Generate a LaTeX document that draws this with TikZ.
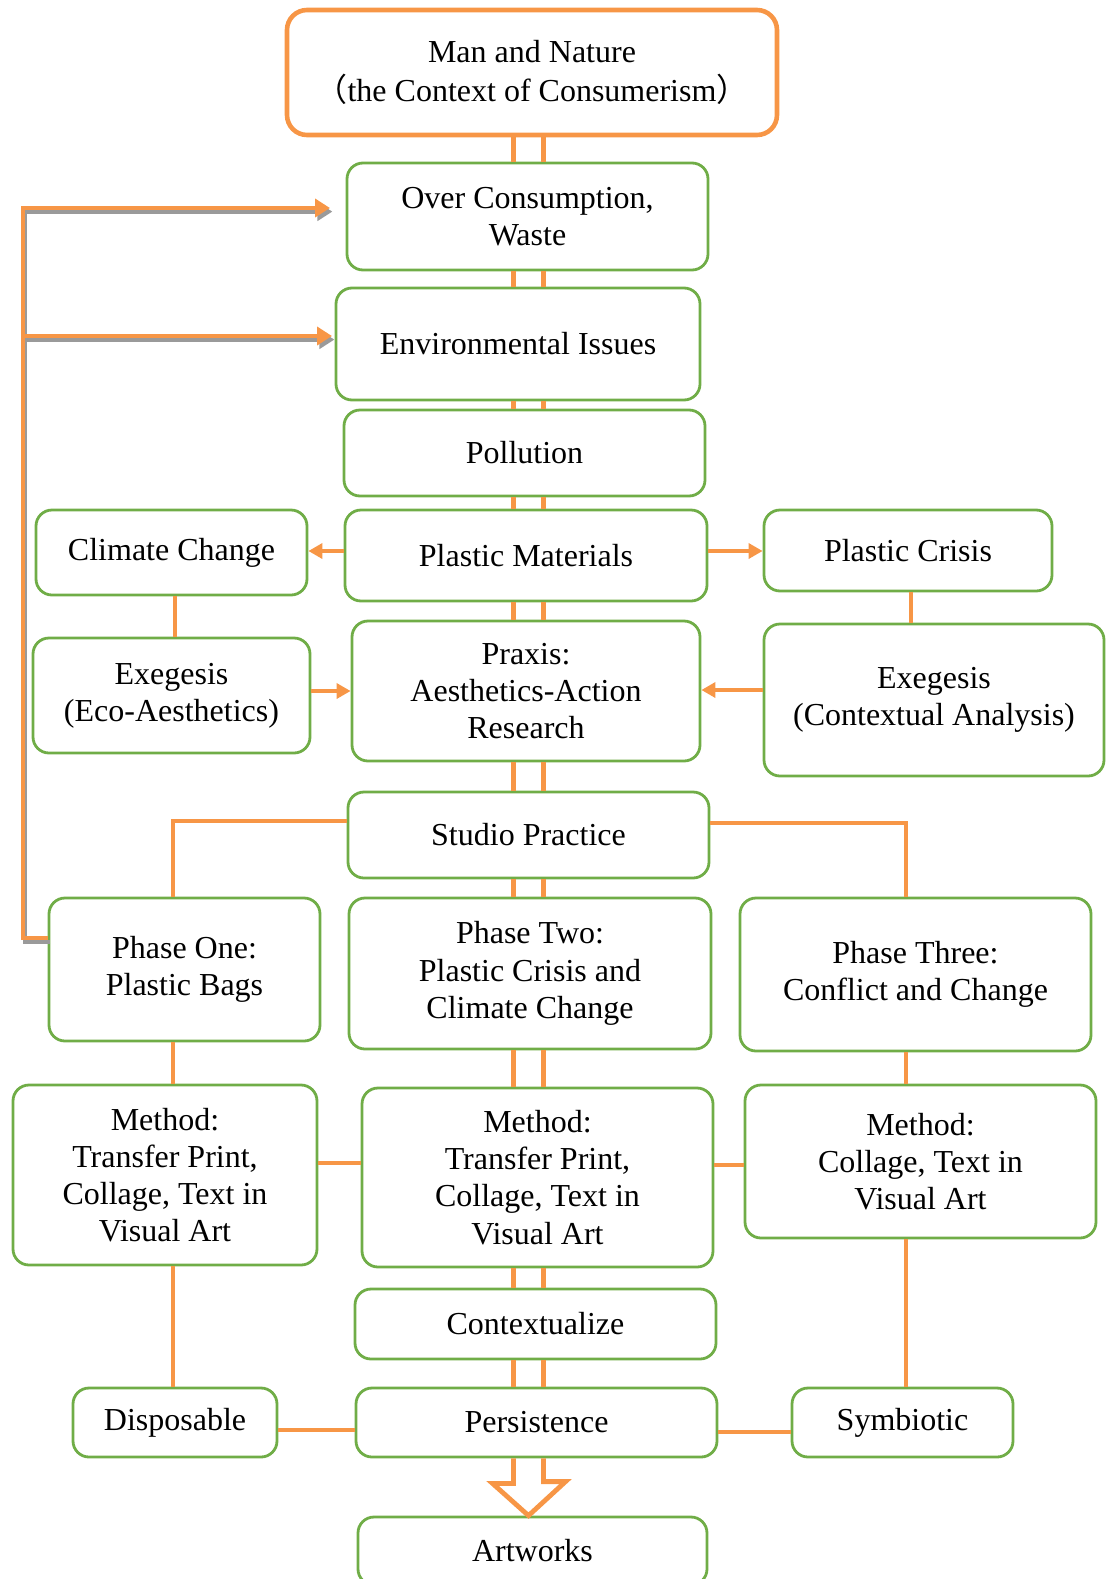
\documentclass[tikz,border=0pt]{standalone}
\usepackage{fontspec}
\setmainfont{Liberation Serif}
\newfontfamily\cjk{Noto Sans CJK SC}
\usetikzlibrary{arrows.meta}
\definecolor{Orange}{HTML}{F79646}
\definecolor{Green}{HTML}{70AD47}
\definecolor{Shade}{HTML}{9A9A9A}

\begin{document}
\begin{tikzpicture}[x=0.5pt,y=-0.5pt,
    box/.style={draw=Green,line width=1.4pt,rounded corners=8pt,
                inner sep=0pt,align=center,
                font=\fontsize{16}{18.6}\selectfont},
    topbox/.style={box,draw=Orange,line width=2.3pt,rounded corners=10pt,
                   font=\fontsize{16}{19.6}\selectfont},
    sz/.style 2 args={minimum width=#1*0.5pt,minimum height=#2*0.5pt},
    lnk/.style={draw=Orange,line width=1.7pt},
    arr/.style={lnk,-{Triangle[length=7pt,width=7.5pt]}},
    pipe/.style={draw=Orange,line width=2.4pt},
    brk/.style={draw=Orange,line width=2pt,-{Triangle[length=7.5pt,width=9pt]}},
    brkshade/.style={brk,draw=Shade,transform canvas={shift={(1.2pt,-1.8pt)}}}
  ]
    \useasboundingbox (0,0) rectangle (1112,1579);

    % main column
    \node[topbox,sz={490}{125}] (man) at (532,72.5)
      {Man and Nature\\{\cjk （}the Context of Consumerism{\cjk ）}};
    \node[box,sz={361}{107}] (over)   at (527.5,216.5) {Over Consumption,\\Waste};
    \node[box,sz={364}{112}] (env)    at (518,344)     {Environmental Issues};
    \node[box,sz={361}{86}]  (poll)   at (524.5,453)   {Pollution};
    \node[box,sz={362}{91}]  (plmat)  at (526,555.5)   {Plastic Materials};
    \node[box,sz={348}{140}] (praxis) at (526,691)     {Praxis:\\Aesthetics-Action\\Research};
    \node[box,sz={361}{86}]  (studio) at (528.5,835)   {Studio Practice};
    \node[box,sz={362}{151}] (ph2)    at (530,973.5)   {Phase Two:\\Plastic Crisis and\\Climate Change};
    \node[box,sz={351}{179}] (mM)     at (537.5,1177.5){Method:\\Transfer Print,\\Collage, Text in\\Visual Art};
    \node[box,sz={361}{70}]  (ctx)    at (535.5,1324)  {Contextualize};
    \node[box,sz={361}{69}]  (pers)   at (536.5,1422.5){Persistence};
    \node[box,sz={349}{68}]  (art)    at (532.5,1551)  {Artworks};

    % side boxes
    \node[box,sz={271}{85}]  (climate) at (171.5,552.5) {Climate Change};
    \node[box,sz={288}{81}]  (crisis)  at (908,550.5)   {Plastic Crisis};
    \node[box,sz={277}{115}] (execo)   at (171.5,695.5) {Exegesis\\(Eco-Aesthetics)};
    \node[box,sz={340}{152}] (excon)   at (934,700)     {Exegesis\\(Contextual Analysis)};
    \node[box,sz={271}{143}] (ph1)     at (184.5,969.5) {Phase One:\\Plastic Bags};
    \node[box,sz={351}{153}] (ph3)     at (915.5,974.5) {Phase Three:\\Conflict and Change};
    \node[box,sz={304}{180}] (mL)      at (165,1175)    {Method:\\Transfer Print,\\Collage, Text in\\Visual Art};
    \node[box,sz={351}{153}] (mR)      at (920.5,1161.5){Method:\\Collage, Text in\\Visual Art};
    \node[box,sz={204}{69}]  (disp)    at (175,1422.5)  {Disposable};
    \node[box,sz={221}{69}]  (symb)    at (902.5,1422.5){Symbiotic};

    % double pipes down the middle
    \coordinate (pl) at (513.5,0);
    \coordinate (pr) at (543.5,0);
    \foreach \a/\b in {man/over,over/env,env/poll,poll/plmat,plmat/praxis,
                       praxis/studio,studio/ph2,ph2/mM,mM/ctx,ctx/pers}{
      \draw[pipe] (\a.south -| pl) -- (\b.north -| pl);
      \draw[pipe] (\a.south -| pr) -- (\b.north -| pr);
    }
    \draw[pipe,line join=miter] (pers.south -| pl) -- ++(0,25) -- ++(-21,0)
      -- (art.north -| 528.5,0) -- ++(37,-34) -- ++(-22,0) -- (pers.south -| pr);

    % side links
    \draw[arr] (plmat.west |- 0,551) -- (climate.east |- 0,551);
    \draw[arr] (plmat.east |- 0,551) -- (crisis.west |- 0,551);
    \draw[lnk] (climate.south -| 175,0) -- (execo.north -| 175,0);
    \draw[lnk] (crisis.south -| 911,0) -- (excon.north -| 911,0);
    \draw[arr] (execo.east |- 0,691) -- (praxis.west |- 0,691);
    \draw[arr] (excon.west |- 0,690) -- (praxis.east |- 0,690);
    \draw[lnk] (studio.west |- 0,821) -| (ph1.north -| 173,0);
    \draw[lnk] (studio.east |- 0,823) -| (ph3.north -| 906,0);
    \draw[lnk] (ph1.south -| 173,0) -- (mL.north -| 173,0);
    \draw[lnk] (ph3.south -| 906,0) -- (mR.north -| 906,0);
    \draw[lnk] (mL.east |- 0,1163) -- (mM.west |- 0,1163);
    \draw[lnk] (mM.east |- 0,1165) -- (mR.west |- 0,1165);
    \draw[lnk] (mL.south -| 173,0) -- (disp.north -| 173,0);
    \draw[lnk] (mR.south -| 906,0) -- (symb.north -| 906,0);
    \draw[lnk] (disp.east |- 0,1430) -- (pers.west |- 0,1430);
    \draw[lnk] (pers.east |- 0,1432) -- (symb.west |- 0,1432);

    % bracket back to the top
    \coordinate (bk) at (23,938);
    \coordinate (tip1) at (330,208);
    \coordinate (tip2) at (332,336);
    \foreach \s in {brkshade,brk}{
      \draw[\s] (ph1.west |- bk) -- (bk) -- (bk |- tip1) -- (tip1);
      \draw[\s] (bk |- tip2) -- (tip2);
    }
  \end{tikzpicture}
\end{document}
